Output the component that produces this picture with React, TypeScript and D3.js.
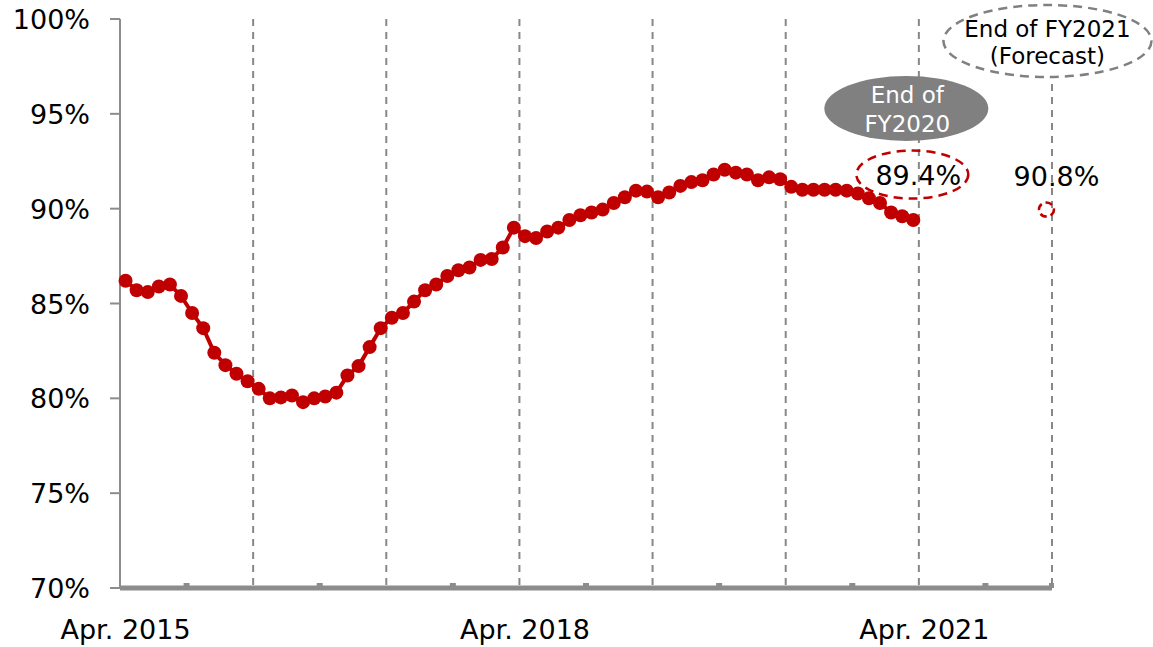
import React from 'react';
import * as d3 from 'd3';

// monthly ratio (%), Apr. 2015 - Mar. 2021
const ratioValues = [
  86.2, 85.7, 85.6, 85.9, 86.0, 85.4, 84.5, 83.7, 82.4, 81.75, 81.3, 80.9,
  80.5, 80.0, 80.05, 80.15, 79.8, 80.0, 80.1, 80.3, 81.2, 81.7, 82.7, 83.7,
  84.25, 84.5, 85.1, 85.7, 86.0, 86.45, 86.75, 86.9, 87.3, 87.35, 87.95, 89.0,
  88.55, 88.45, 88.8, 89.0, 89.4, 89.65, 89.8, 89.95, 90.3, 90.6, 90.95, 90.9,
  90.6, 90.85, 91.2, 91.4, 91.5, 91.8, 92.05, 91.9, 91.8, 91.5, 91.65, 91.55,
  91.15, 91.0, 91.0, 91.0, 91.0, 90.95, 90.8, 90.55, 90.3, 89.8, 89.6, 89.4,
];

// forecast marker (end of FY2021), as drawn
const forecastMarker = 89.95;
const forecastLabel = '90.8%';
const lastLabel = '89.4%';

const yTicks = [70, 75, 80, 85, 90, 95, 100];
const xLabels = [
  { index: 0, text: 'Apr. 2015' },
  { index: 36, text: 'Apr. 2018' },
  { index: 72, text: 'Apr. 2021' },
];

const months = d3.timeMonth.range(new Date(2015, 3, 1), new Date(2022, 3, 1));
const monthKeys = months.map((d) => d3.timeFormat('%Y-%m')(d));

const width = 1153;
const height = 647;
const margin = { top: 19, right: 101, bottom: 59, left: 120 };

const RED = '#C00000';
const GREY = '#808080';
const FONT = '"DejaVu Sans", Verdana, sans-serif';

const App = () => {
  const x = d3
    .scaleBand()
    .domain(monthKeys)
    .range([margin.left, width - margin.right])
    .padding(0);
  const y = d3
    .scaleLinear()
    .domain([70, 100])
    .range([height - margin.bottom, margin.top]);

  const bw = x.bandwidth();
  const cx = (i) => x(monthKeys[i]) + bw / 2;
  const edge = (i) => (i >= monthKeys.length ? width - margin.right : x(monthKeys[i]));

  const line = d3
    .line()
    .x((d, i) => cx(i))
    .y((d) => y(d));

  const yBase = y(70);
  const yearLines = d3.range(12, 85, 12);
  const halfTicks = d3.range(6, 84, 12);

  const lastX = cx(ratioValues.length - 1);
  const fX = cx(monthKeys.length - 1);

  return (
    <svg width={width} height={height} style={{ position: 'absolute', left: 0, top: 0 }} fontFamily={FONT}>
      <rect width={width} height={height} fill="#fff" />

      {/* yearly dashed separators */}
      {yearLines.map((i) => (
        <line
          key={i}
          x1={edge(i)}
          x2={edge(i)}
          y1={y(100)}
          y2={yBase - 2}
          stroke="#888"
          strokeWidth={2}
          strokeDasharray="7 6"
        />
      ))}

      {/* y axis */}
      <line x1={margin.left} x2={margin.left} y1={y(100)} y2={yBase} stroke="#8c8c8c" strokeWidth={2} />
      {yTicks.map((t) => (
        <g key={t}>
          <line x1={margin.left - 10} x2={margin.left} y1={y(t)} y2={y(t)} stroke="#8c8c8c" strokeWidth={2} />
          <text x={90} y={y(t) + 10} textAnchor="end" fontSize={27} fill="#000">
            {t}%
          </text>
        </g>
      ))}

      {/* x axis */}
      <line x1={margin.left} x2={width - margin.right} y1={yBase} y2={yBase} stroke="#8c8c8c" strokeWidth={5} />
      {halfTicks.map((i) => (
        <rect key={i} x={edge(i) - 3} y={yBase - 5} width={6} height={5} fill="#8c8c8c" />
      ))}
      <rect x={width - margin.right - 3} y={yBase - 5} width={5} height={5} fill="#8c8c8c" />
      {xLabels.map((l) => (
        <text key={l.text} x={cx(l.index)} y={639} textAnchor="middle" fontSize={27} fill="#000">
          {l.text}
        </text>
      ))}

      {/* series */}
      <path d={line(ratioValues)} fill="none" stroke={RED} strokeWidth={4} />
      {ratioValues.map((v, i) => (
        <circle key={i} cx={cx(i)} cy={y(v)} r={7} fill={RED} />
      ))}

      {/* End of FY2020 */}
      <ellipse cx={lastX - 7} cy={108.5} rx={82} ry={32.5} fill={GREY} />
      <text x={lastX - 6} y={103} textAnchor="middle" fontSize={23} fill="#fff">
        End of
      </text>
      <text x={lastX - 6} y={132} textAnchor="middle" fontSize={23} fill="#fff">
        FY2020
      </text>
      <ellipse
        cx={lastX - 1}
        cy={y(91.8)}
        rx={56}
        ry={24}
        fill="none"
        stroke={RED}
        strokeWidth={2.5}
        strokeDasharray="9 6"
      />
      <text x={lastX + 5} y={185} textAnchor="middle" fontSize={27} fill="#000">
        {lastLabel}
      </text>

      {/* End of FY2021 forecast */}
      <ellipse
        cx={fX + 1}
        cy={41}
        rx={104}
        ry={36}
        fill="#fff"
        stroke={GREY}
        strokeWidth={2.5}
        strokeDasharray="9 6"
      />
      <text x={fX + 1} y={37} textAnchor="middle" fontSize={23} fill="#000">
        End of FY2021
      </text>
      <text x={fX + 1} y={64} textAnchor="middle" fontSize={23} fill="#000">
        (Forecast)
      </text>
      <text x={fX + 10} y={186} textAnchor="middle" fontSize={27} fill="#000">
        {forecastLabel}
      </text>
      <ellipse
        cx={fX}
        cy={y(forecastMarker)}
        rx={7.5}
        ry={7}
        fill="none"
        stroke={RED}
        strokeWidth={2.5}
        strokeDasharray="7 4"
      />
    </svg>
  );
};

export default App;
